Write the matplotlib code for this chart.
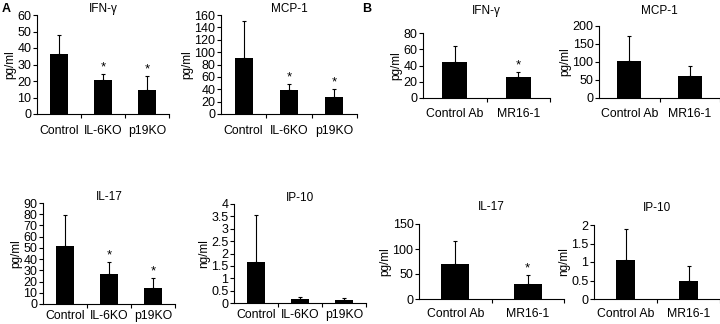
import matplotlib
matplotlib.use("Agg")
import matplotlib.pyplot as plt

plt.rcParams['font.family'] = ['Liberation Sans', 'DejaVu Sans']

W, H = 720.0, 324.0

# panel A
groups_a = ["Control", "IL-6KO", "p19KO"]
ifn_a = [36.5, 20.5, 14.5]
ifn_a_err = [48, 24, 23]
mcp_a = [90, 38, 28]
mcp_a_err = [150, 48, 40]
il17_a = [52, 27, 14]
il17_a_err = [79, 37, 23]
ip10_a = [1.65, 0.18, 0.13]
ip10_a_err = [3.55, 0.25, 0.2]
star_a = [False, True, True]
star_ip10_a = [False, False, False]

# panel B
groups_b = ["Control Ab", "MR16-1"]
ifn_b = [44, 26]
ifn_b_err = [64, 32]
mcp_b = [103, 60]
mcp_b_err = [172, 90]
il17_b = [71, 31]
il17_b_err = [116, 48]
ip10_b = [1.05, 0.48]
ip10_b_err = [1.88, 0.88]
star_ifn_b = [False, True]
star_mcp_b = [False, False]
star_il17_b = [False, True]
star_ip10_b = [False, False]


def box(x0, x1, ytop, ybot):
    return [x0 / W, 1 - ybot / H, (x1 - x0) / W, (ybot - ytop) / H]


def panel(fig, rect, labels, vals, errs, stars, ymax, ystep, title, ylabel,
          bw=0.4, title_pad=2, xpad=8, yfmt=None):
    ax = fig.add_axes(rect)
    n = len(labels)
    xs = list(range(n))
    ax.bar(xs, vals, width=bw, color="black", zorder=2)
    up = [e - v for v, e in zip(vals, errs)]
    ax.errorbar(xs, vals, yerr=[[0] * n, up], fmt="none", ecolor="black",
                elinewidth=0.8, capsize=1.5, capthick=0.8, zorder=1)
    for x, e, s in zip(xs, errs, stars):
        if s:
            ax.text(x, e + ymax * 0.01, "*", ha="center", va="bottom",
                    fontsize=9.5)
    ax.set_xlim(-0.5, n - 0.5)
    ax.set_ylim(0, ymax)
    ticks = []
    t = 0.0
    while t <= ymax + 1e-9:
        ticks.append(round(t, 3))
        t += ystep
    ax.set_yticks(ticks)
    if yfmt:
        ax.set_yticklabels([yfmt(v) for v in ticks])
    ax.set_xticks(xs)
    ax.set_xticklabels(labels)
    ax.set_xticks([i + 0.5 for i in range(n)], minor=True)
    ax.tick_params(axis="x", which="major", length=0, pad=xpad, labelsize=8.8)
    ax.tick_params(axis="x", which="minor", length=3, width=0.8, direction="out")
    ax.tick_params(axis="y", length=3, width=0.8, pad=1, labelsize=9)
    ax.spines["top"].set_visible(False)
    ax.spines["right"].set_visible(False)
    ax.spines["left"].set_linewidth(0.8)
    ax.spines["bottom"].set_linewidth(0.8)
    ax.set_ylabel(ylabel, fontsize=8.5, labelpad=1)
    ax.set_title(title, fontsize=8.5, pad=title_pad)
    return ax


def fmt_num(v):
    if abs(v - round(v)) < 1e-9:
        return "%d" % round(v)
    return ("%g" % v)


fig = plt.figure(figsize=(7.2, 3.24), dpi=100)

panel(fig, box(37, 169, 15, 114), groups_a, ifn_a, ifn_a_err, star_a,
      60, 10, "IFN-\u03b3", "pg/ml")
panel(fig, box(221, 357, 15, 114), groups_a, mcp_a, mcp_a_err, star_a,
      160, 20, "MCP-1", "pg/ml")
panel(fig, box(43, 175, 203, 304), groups_a, il17_a, il17_a_err, star_a,
      90, 10, "IL-17", "pg/ml", title_pad=2, xpad=4.5)
panel(fig, box(234, 366, 204, 303), groups_a, ip10_a, ip10_a_err, star_ip10_a,
      4, 0.5, "IP-10", "ng/ml", title_pad=2, xpad=4.5, yfmt=fmt_num)

panel(fig, box(423, 550, 33, 98), groups_b, ifn_b, ifn_b_err, star_ifn_b,
      80, 20, "IFN-\u03b3", "pg/ml", title_pad=14, xpad=7)
panel(fig, box(599, 720, 26, 98), groups_b, mcp_b, mcp_b_err, star_mcp_b,
      200, 50, "MCP-1", "pg/ml", title_pad=9, xpad=7)
panel(fig, box(419, 564, 224, 299), groups_b, il17_b, il17_b_err, star_il17_b,
      150, 50, "IL-17", "pg/ml", bw=0.38, title_pad=10, xpad=6.5)
panel(fig, box(594, 720, 225, 299), groups_b, ip10_b, ip10_b_err, star_ip10_b,
      2, 0.5, "IP-10", "ng/ml", bw=0.3, title_pad=10, xpad=6.5, yfmt=fmt_num)

fig.text(2 / W, 1 - 3 / H, "A", fontsize=9, fontweight="bold", va="top")
fig.text(362 / W, 1 - 3 / H, "B", fontsize=9, fontweight="bold", va="top")

fig.savefig("out.png", dpi=100)
